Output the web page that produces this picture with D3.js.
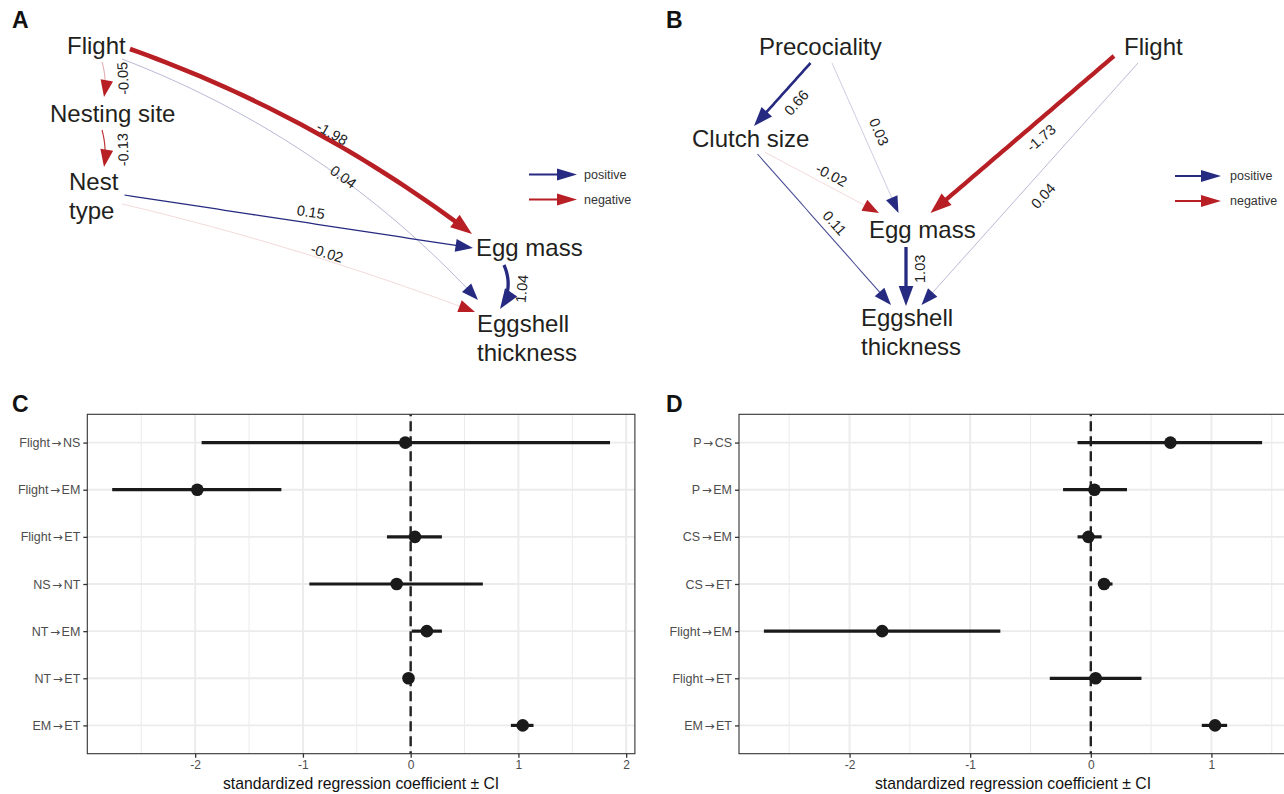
<!DOCTYPE html>
<html><head><meta charset="utf-8">
<script src="https://cdn.jsdelivr.net/npm/d3@7"></script>
<style>
body{margin:0;background:#fff}
text{font-family:"Liberation Sans",Arial,Helvetica,sans-serif}
</style>
</head><body>
<svg id="chart" width="1284" height="794"></svg>
<script>
// ================= DATA =================
// Panel A path model
const edgesA = [
  {from:"Flight", to:"Nesting site", coef:-0.05},
  {from:"Nesting site", to:"Nest type", coef:-0.13},
  {from:"Flight", to:"Egg mass", coef:-1.98},
  {from:"Flight", to:"Eggshell thickness", coef:0.04},
  {from:"Nest type", to:"Egg mass", coef:0.15},
  {from:"Nest type", to:"Eggshell thickness", coef:-0.02},
  {from:"Egg mass", to:"Eggshell thickness", coef:1.04}
];
const nodesA = ["Flight","Nesting site","Nest type","Egg mass","Eggshell thickness"];
// Panel B path model
const edgesB = [
  {from:"Precociality", to:"Clutch size", coef:0.66},
  {from:"Precociality", to:"Egg mass", coef:0.03},
  {from:"Flight", to:"Egg mass", coef:-1.73},
  {from:"Flight", to:"Eggshell thickness", coef:0.04},
  {from:"Clutch size", to:"Egg mass", coef:-0.02},
  {from:"Clutch size", to:"Eggshell thickness", coef:0.11},
  {from:"Egg mass", to:"Eggshell thickness", coef:1.03}
];
const nodesB = ["Precociality","Flight","Clutch size","Egg mass","Eggshell thickness"];

// Panel C coefficients
const pathsC = ["Flight→NS","Flight→EM","Flight→ET","NS→NT","NT→EM","NT→ET","EM→ET"];
const estC  = [-0.05,-1.98, 0.04,-0.13, 0.15,-0.02, 1.04];
const lowC  = [-1.94,-2.77,-0.22,-0.94, 0.01,-0.06, 0.93];
const highC = [ 1.85,-1.20, 0.29, 0.67, 0.29, 0.02, 1.14];
const ticksC = [-2,-1,0,1,2];
const minorC = [-2.5,-1.5,-0.5,0.5,1.5];

// Panel D coefficients
const pathsD = ["P→CS","P→EM","CS→EM","CS→ET","Flight→EM","Flight→ET","EM→ET"];
const estD  = [ 0.66, 0.03,-0.02, 0.11,-1.73, 0.04, 1.03];
const lowD  = [-0.11,-0.23,-0.11, 0.06,-2.71,-0.34, 0.92];
const highD = [ 1.42, 0.30, 0.09, 0.18,-0.75, 0.42, 1.13];
const ticksD = [-2,-1,0,1];
const minorD = [-2.5,-1.5,-0.5,0.5,1.5];

const legendKeys = ["positive","negative"];
const axisTitle = "standardized regression coefficient ± CI";

// ================= LAYOUT / STYLE =================
const BLUE = "#262a80", RED = "#b81f25", INK = "#231f20";
const svg = d3.select("#chart");

const layoutA = {
  nodes: {
    "Flight": {x:67, y:54, lines:["Flight"]},
    "Nesting site": {x:50, y:122, lines:["Nesting site"]},
    "Nest type": {x:69, y:190, lines:["Nest","type"]},
    "Egg mass": {x:476, y:256, lines:["Egg mass"]},
    "Eggshell thickness": {x:477, y:332, lines:["Eggshell","thickness"]}
  },
  edges: {
    "Flight>Nesting site": {s:[102,62], e:[104,97], bend:2, lt:0.5, ld:18},
    "Nesting site>Nest type": {s:[102,130], e:[104,167], bend:2, lt:0.55, ld:18},
    "Flight>Egg mass": {s:[130,49], e:[472,234], bend:15, lt:0.56, ld:7},
    "Flight>Eggshell thickness": {s:[122,59], e:[478,300], bend:25, lt:0.58, ld:2},
    "Nest type>Egg mass": {s:[124.5,195], e:[473,248], bend:0, lt:0.53, ld:11},
    "Nest type>Eggshell thickness": {s:[122,204], e:[475,312], bend:6, lt:0.57, ld:7},
    "Egg mass>Eggshell thickness": {s:[504,265], e:[500,309], bend:6, lt:0.5, ld:14}
  },
  legend: {x1:529, x2:577, y:174.5, dy:25, tx:584},
  letter: {t:"A", x:12, y:28}
};
const layoutB = {
  nodes: {
    "Precociality": {x:759, y:55, lines:["Precociality"]},
    "Flight": {x:1124, y:55, lines:["Flight"]},
    "Clutch size": {x:692, y:147, lines:["Clutch size"]},
    "Egg mass": {x:869, y:238, lines:["Egg mass"]},
    "Eggshell thickness": {x:861, y:326, lines:["Eggshell","thickness"]}
  },
  edges: {
    "Precociality>Clutch size": {s:[810.5,63], e:[754,126], bend:0, lt:0.46, ld:16},
    "Precociality>Egg mass": {s:[832,63], e:[898.5,213], bend:0, lt:0.5, ld:15},
    "Flight>Egg mass": {s:[1114,56], e:[930.5,213], bend:0, lt:0.45, ld:15},
    "Flight>Eggshell thickness": {s:[1138,63], e:[921.5,305], bend:0, lt:0.5, ld:18},
    "Clutch size>Egg mass": {s:[764.5,152], e:[879,213], bend:0, lt:0.54, ld:11},
    "Clutch size>Eggshell thickness": {s:[757.5,154], e:[891,305], bend:0, lt:0.51, ld:12},
    "Egg mass>Eggshell thickness": {s:[906,247], e:[906,306], bend:0, lt:0.37, ld:14}
  },
  legend: {x1:1175, x2:1221, y:176, dy:25, tx:1230},
  letter: {t:"B", x:666, y:28}
};

const widthScale = d3.scaleSqrt().domain([0,2]).range([0,4.6]);
const alphaScale = d3.scaleLinear().domain([0,0.05,0.15]).range([0.15,0.6,1]).clamp(true);
const colorOf = c => c >= 0 ? BLUE : RED;

function bez(S,C,E,t){
  const u=1-t;
  return [u*u*S[0]+2*u*t*C[0]+t*t*E[0], u*u*S[1]+2*u*t*C[1]+t*t*E[1]];
}
function bezTan(S,C,E,t){
  const dx = 2*(1-t)*(C[0]-S[0]) + 2*t*(E[0]-C[0]);
  const dy = 2*(1-t)*(C[1]-S[1]) + 2*t*(E[1]-C[1]);
  const l = Math.hypot(dx,dy); return [dx/l, dy/l];
}
function arrowHead(g, tip, u, L, W, color){
  const b = [tip[0]-L*u[0], tip[1]-L*u[1]];
  const n = [-u[1], u[0]];
  g.append("path")
    .attr("d", d3.line()([tip, [b[0]+n[0]*W/2, b[1]+n[1]*W/2], [b[0]-n[0]*W/2, b[1]-n[1]*W/2]]) + "Z")
    .attr("fill", color);
}

function drawDiagram(nodes, edges, layout){
  const g = svg.append("g");
  g.append("text").text(layout.letter.t).attr("x",layout.letter.x).attr("y",layout.letter.y)
    .attr("font-size",23).attr("font-weight","bold").attr("fill","#111");
  edges.forEach(ed => {
    const geo = layout.edges[ed.from+">"+ed.to];
    const S = geo.s, E = geo.e;
    const dx = E[0]-S[0], dy = E[1]-S[1], len = Math.hypot(dx,dy);
    const nrm = [dy/len, -dx/len];
    const C = [(S[0]+E[0])/2 + nrm[0]*2*geo.bend, (S[1]+E[1])/2 + nrm[1]*2*geo.bend];
    const w = widthScale(Math.abs(ed.coef));
    const col = colorOf(ed.coef);
    const L = 16 + 1.2*w, W = 12 + 0.8*w;
    let lo=0, hi=1;
    for(let i=0;i<30;i++){ const m=(lo+hi)/2; const p=bez(S,C,E,m); if(Math.hypot(p[0]-E[0],p[1]-E[1]) > L*0.8) lo=m; else hi=m; }
    const ts = d3.range(0, 41).map(i => lo*i/40);
    g.append("path").attr("d", d3.line()(ts.map(t=>bez(S,C,E,t))))
      .attr("fill","none").attr("stroke",col).attr("stroke-width",Math.max(w,0.5))
      .attr("stroke-opacity",alphaScale(Math.abs(ed.coef)));
    arrowHead(g, E, bezTan(S,C,E,1), L, W, col);
    const p = bez(S,C,E,geo.lt), u = bezTan(S,C,E,geo.lt);
    const nn = [u[1], -u[0]];
    let ang = Math.atan2(u[1],u[0])*180/Math.PI;
    if (ang > 80) ang -= 180; else if (ang < -100) ang += 180;
    const lx = p[0]+nn[0]*geo.ld, ly = p[1]+nn[1]*geo.ld;
    g.append("text").text(ed.coef.toFixed(2))
      .attr("transform",`translate(${lx},${ly}) rotate(${ang})`)
      .attr("text-anchor","middle").attr("dominant-baseline","central")
      .attr("font-size",14.5).attr("fill","#222");
  });
  nodes.forEach(nm => {
    const nd = layout.nodes[nm];
    const t = g.append("text").attr("x",nd.x).attr("y",nd.y).attr("font-size",24).attr("fill",INK);
    nd.lines.forEach((ln,i) => t.append("tspan").attr("x",nd.x).attr("dy", i===0?0:29).text(ln));
  });
  const lg = layout.legend;
  legendKeys.forEach((k,i) => {
    const y = lg.y + i*lg.dy, col = i===0 ? BLUE : RED;
    g.append("line").attr("x1",lg.x1).attr("x2",lg.x2-14).attr("y1",y).attr("y2",y)
      .attr("stroke",col).attr("stroke-width",2);
    arrowHead(g, [lg.x2,y], [1,0], 20, 12, col);
    g.append("text").text(k).attr("x",lg.tx).attr("y",y+4.3).attr("font-size",12.5).attr("fill","#333");
  });
}

drawDiagram(nodesA, edgesA, layoutA);
drawDiagram(nodesB, edgesB, layoutB);

function forest(o){
  const g = svg.append("g");
  const lo = d3.min(o.low), hi = d3.max(o.high), r = hi-lo;
  const x = d3.scaleLinear().domain([lo-0.05*r, hi+0.05*r]).range([o.left, o.left+o.width]);
  const y = d3.scalePoint().domain(o.labels).range([o.top, o.top+o.height]).padding(0.6);
  const B = o.top+o.height;
  g.append("text").text(o.letter).attr("x",o.lx).attr("y",o.top-2)
    .attr("font-size",23).attr("font-weight","bold").attr("fill","#111");
  g.selectAll(".mn").data(o.minor).join("line")
    .attr("x1",x).attr("x2",x).attr("y1",o.top).attr("y2",B)
    .attr("stroke","#ebebeb").attr("stroke-width",1);
  g.selectAll(".mj").data(o.ticks).join("line")
    .attr("x1",x).attr("x2",x).attr("y1",o.top).attr("y2",B)
    .attr("stroke","#ebebeb").attr("stroke-width",1.9);
  g.selectAll(".hz").data(o.labels).join("line")
    .attr("x1",o.left).attr("x2",o.left+o.width).attr("y1",y).attr("y2",y)
    .attr("stroke","#ebebeb").attr("stroke-width",1.9);
  g.append("line").attr("x1",x(0)).attr("x2",x(0)).attr("y1",o.top).attr("y2",B)
    .attr("stroke","#222").attr("stroke-width",2.4).attr("stroke-dasharray","10 5")
    .attr("stroke-dashoffset",-7);
  g.selectAll(".eb").data(o.labels).join("line")
    .attr("x1",(d,i)=>x(o.low[i])).attr("x2",(d,i)=>x(o.high[i]))
    .attr("y1",y).attr("y2",y).attr("stroke","#1a1a1a").attr("stroke-width",3.2);
  g.selectAll(".pt").data(o.labels).join("circle")
    .attr("cx",(d,i)=>x(o.est[i])).attr("cy",y).attr("r",6.3).attr("fill","#1a1a1a");
  g.append("rect").attr("x",o.left).attr("y",o.top).attr("width",o.width).attr("height",o.height)
    .attr("fill","none").attr("stroke","#333").attr("stroke-width",1.1);
  const xa = g.append("g").attr("transform",`translate(0,${B})`)
    .call(d3.axisBottom(x).tickValues(o.ticks).tickSize(4).tickPadding(3).tickFormat(d=>String(d)));
  const ya = g.append("g").attr("transform",`translate(${o.left},0)`)
    .call(d3.axisLeft(y).tickSize(4).tickPadding(3));
  [xa,ya].forEach(a=>{
    a.select(".domain").remove();
    a.selectAll(".tick line").attr("stroke","#333").attr("stroke-width",1.3);
    a.selectAll(".tick text").attr("fill","#4d4d4d").attr("font-size",12)
      .attr("font-family",'"Liberation Sans",Arial,sans-serif');
  });
  // y labels: render the arrow glyph wider (DejaVu) with small gaps like the reference
  ya.selectAll(".tick text").each(function(d){
    const t = d3.select(this).text("").attr("font-size",12.5);
    const parts = d.split("→");
    t.append("tspan").text(parts[0]);
    t.append("tspan").text("→").attr("dx",1.5).attr("font-family",'"DejaVu Sans",sans-serif').attr("font-size",12);
    t.append("tspan").text(parts[1]).attr("dx",1.5);
  });
  g.append("text").text(axisTitle).attr("x",o.left+o.width/2).attr("y",789)
    .attr("text-anchor","middle").attr("font-size",15.75).attr("fill","#111");
}

forest({labels:pathsC, est:estC, low:lowC, high:highC, ticks:ticksC, minor:minorC,
  left:87.3, top:414.3, width:547.6, height:339.4, letter:"C", lx:12});
forest({labels:pathsD, est:estD, low:lowD, high:highD, ticks:ticksD, minor:minorD,
  left:739, top:414.3, width:548, height:339.4, letter:"D", lx:666});
</script>
</body></html>
